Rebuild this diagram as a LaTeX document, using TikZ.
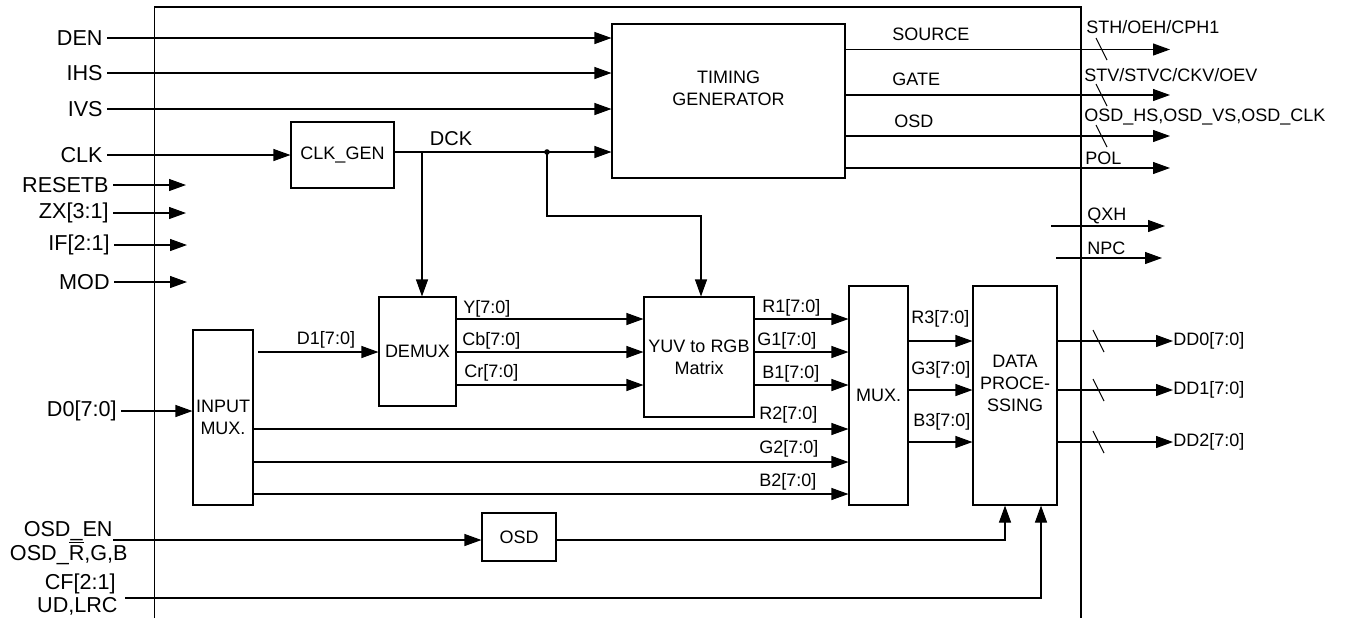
\documentclass[tikz,border=0pt]{standalone}
\usepackage{fontspec}
\setmainfont{Liberation Sans}
\usetikzlibrary{arrows.meta}
\tikzset{
  blk/.style={draw, line width=0.55pt, inner sep=0.5pt, align=center, font=\fontsize{9}{11}\selectfont},
  blktxt/.style={inner sep=0pt, align=center, font=\fontsize{9}{11}\selectfont},
  sig/.style={line width=0.55pt, -{Triangle[length=8.5pt,width=6pt]}},
  wire/.style={line width=0.55pt},
  pin/.style={anchor=east, inner sep=2pt, font=\fontsize{10.8}{12}\selectfont},
  tag/.style={anchor=west, inner sep=0pt, font=\fontsize{9}{11}\selectfont},
}

\begin{document}
\begin{tikzpicture}[x=0.5pt, y=-0.5pt]
\useasboundingbox (0,0) rectangle (1349,618);
\draw[wire] (154.5,618) -- (154.5,7) -- (1081,7) -- (1081,618);

\node[blk, minimum width=116.5pt, minimum height=77pt,
  label={[blktxt, yshift=6.5pt]center:TIMING\\GENERATOR}] (tg) at (728.5,101) {};
\node[blk, minimum width=51.5pt, minimum height=33pt] (ckgen) at (342.5,155) {CLK\_GEN};
\node[blk, minimum width=38.5pt, minimum height=54.5pt] (demux) at (417.5,351.5) {DEMUX};
\node[blk, minimum width=55pt, minimum height=60pt] (yuv) at (699,357) {YUV to RGB\\Matrix};
\node[blk, minimum width=30pt, minimum height=87.5pt] (inmux) at (223,417.5) {INPUT\\MUX.};
\node[blk, minimum width=29.5pt, minimum height=109.5pt] (mux) at (878.5,395.5) {MUX.};
\node[blk, minimum width=42pt, minimum height=109.5pt,
  label={[blktxt, yshift=6.25pt]center:DATA\\PROCE-\\SSING}] (dp) at (1015,395.5) {};
\node[blk, minimum width=37pt, minimum height=24pt] (osd) at (519,537) {OSD};

% inputs
\node[pin] (den) at (107,38) {DEN};
\node[pin] (ihs) at (107,73) {IHS};
\node[pin] (ivs) at (107,109) {IVS};
\node[pin] (clk) at (107,155) {CLK};
\draw[sig] (den.east) -- (den.east -| tg.west);
\draw[sig] (ihs.east) -- (ihs.east -| tg.west);
\draw[sig] (ivs.east) -- (ivs.east -| tg.west);
\draw[sig] (clk.east) -- (ckgen.west);

\node[pin] (rstb) at (113,185) {RESETB};
\node[pin] (zx) at (113,213) {ZX[3:1]};
\node[pin] (iff) at (114,245) {IF[2:1]};
\node[pin] (mod) at (114,282) {MOD};
\coordinate (rstbend) at (186,185);
\coordinate (zxend) at (186,213);
\coordinate (iffend) at (187,245);
\coordinate (modend) at (187,282);
\draw[sig] (rstb.east) -- (rstbend);
\draw[sig] (zx.east) -- (zxend);
\draw[sig] (iff.east) -- (iffend);
\draw[sig] (mod.east) -- (modend);

% clock
\coordinate (dckdot) at (547,152);
\coordinate (dcktap) at (422,152);
\coordinate (yuvtap) at (701,216);
\node[inner sep=0pt, font=\fontsize{10}{12}\selectfont] (dck) at (451,139) {DCK};
\draw[sig] (ckgen.east |- dckdot) -- (dckdot -| tg.west);
\fill (dckdot) circle[radius=1.4pt];
\draw[sig] (dcktap) -- (dcktap |- demux.north);
\draw[sig] (dckdot) |- (yuvtap) -- (yuvtap |- yuv.north);

% timing outputs
\coordinate (srcend) at (1170,49.5);
\coordinate (gateend) at (1170,95);
\coordinate (osdend) at (1170,136);
\coordinate (polend) at (1170,168);
\draw[sig] (tg.east |- srcend) -- (srcend);
\draw[sig] (tg.east |- gateend) -- (gateend);
\draw[sig] (tg.east |- osdend) -- (osdend);
\draw[sig] (tg.east |- polend) -- (polend);
\node[tag] (srclbl) at (892,34) {SOURCE};
\node[tag] (gatelbl) at (892,79) {GATE};
\node[tag] (osdlbl) at (894,121) {OSD};
\node[tag] (sth) at (1086,27) {STH/OEH/CPH1};
\node[tag] (stv) at (1084,75) {STV/STVC/CKV/OEV};
\node[tag] (osdhs) at (1084,117) {OSD\_HS,OSD\_VS,OSD\_CLK};
\node[tag] (pol) at (1085,158) {POL};
\draw[wire] (1096,38) -- (1107,60);
\draw[wire] (1096,84) -- (1107,106);
\draw[wire] (1096,125) -- (1107,147);

\coordinate (qxhin) at (1051,226);
\coordinate (qxhend) at (1165,226);
\coordinate (npcin) at (1056,258);
\coordinate (npcend) at (1162,258);
\draw[sig] (qxhin) -- (qxhend);
\draw[sig] (npcin) -- (npcend);
\node[tag] (qxh) at (1087,216) {QXH};
\node[tag] (npc) at (1087,248) {NPC};

% data path
\node[pin] (dzero) at (121,411) {D0[7:0]};
\draw[sig] (dzero.east) -- (dzero.east -| inmux.west);
\coordinate (d1start) at (258,352);
\draw[sig] (d1start) -- (d1start -| demux.west);
\node[blktxt] (d1) at (326,340) {D1[7:0]};

\draw[sig] (demux.east |- 0,319) -- (yuv.west |- 0,319);
\draw[sig] (demux.east |- 0,352) -- (yuv.west |- 0,352);
\draw[sig] (demux.east |- 0,385) -- (yuv.west |- 0,385);
\node[tag] (ylbl) at (463,309) {Y[7:0]};
\node[tag] (cblbl) at (462,341) {Cb[7:0]};
\node[tag] (crlbl) at (464,373) {Cr[7:0]};

\draw[sig] (yuv.east |- 0,319) -- (mux.west |- 0,319);
\draw[sig] (yuv.east |- 0,352) -- (mux.west |- 0,352);
\draw[sig] (yuv.east |- 0,385) -- (mux.west |- 0,385);
\draw[sig] (inmux.east |- 0,429) -- (mux.west |- 0,429);
\draw[sig] (inmux.east |- 0,462) -- (mux.west |- 0,462);
\draw[sig] (inmux.east |- 0,494) -- (mux.west |- 0,494);
\node[tag] (r1) at (762,308) {R1[7:0]};
\node[tag] (g1) at (757,341) {G1[7:0]};
\node[tag] (b1) at (762,374) {B1[7:0]};
\node[tag] (r2) at (759,415) {R2[7:0]};
\node[tag] (g2) at (759,449) {G2[7:0]};
\node[tag] (b2) at (759,482) {B2[7:0]};

\draw[sig] (mux.east |- 0,341) -- (dp.west |- 0,341);
\draw[sig] (mux.east |- 0,390) -- (dp.west |- 0,390);
\draw[sig] (mux.east |- 0,442) -- (dp.west |- 0,442);
\node[tag] (r3) at (911,319) {R3[7:0]};
\node[tag] (g3) at (911,370) {G3[7:0]};
\node[tag] (b3) at (913,422) {B3[7:0]};

\node[tag] (dd0) at (1173,341) {DD0[7:0]};
\node[tag] (dd1) at (1173,390) {DD1[7:0]};
\node[tag] (dd2) at (1173,442) {DD2[7:0]};
\draw[sig] (dp.east |- dd0.west) -- (dd0.west);
\draw[sig] (dp.east |- dd1.west) -- (dd1.west);
\draw[sig] (dp.east |- dd2.west) -- (dd2.west);
\draw[wire] (1093,330) -- (1104,352);
\draw[wire] (1093,379) -- (1104,401);
\draw[wire] (1093,431) -- (1104,453);

% osd and control
\node[pin] (osden) at (117,531) {OSD\_EN};
\node[pin] (osdrgb) at (132,553) {OSD\_$\overline{\mbox{R}}$,G,B};
\node[pin] (cf) at (120,584) {CF[2:1]};
\node[pin] (udlrc) at (122,606) {UD,LRC};
\coordinate (osdin) at (113,540);
\coordinate (dpin1) at (1005,540);
\coordinate (cfin) at (125,598);
\coordinate (dpin2) at (1041,598);
\draw[sig] (osdin) -- (osdin -| osd.west);
\draw[sig] (osd.east |- dpin1) -- (dpin1) -- (dpin1 |- dp.south);
\draw[sig] (cfin) -- (dpin2) -- (dpin2 |- dp.south);
\end{tikzpicture}
\end{document}
